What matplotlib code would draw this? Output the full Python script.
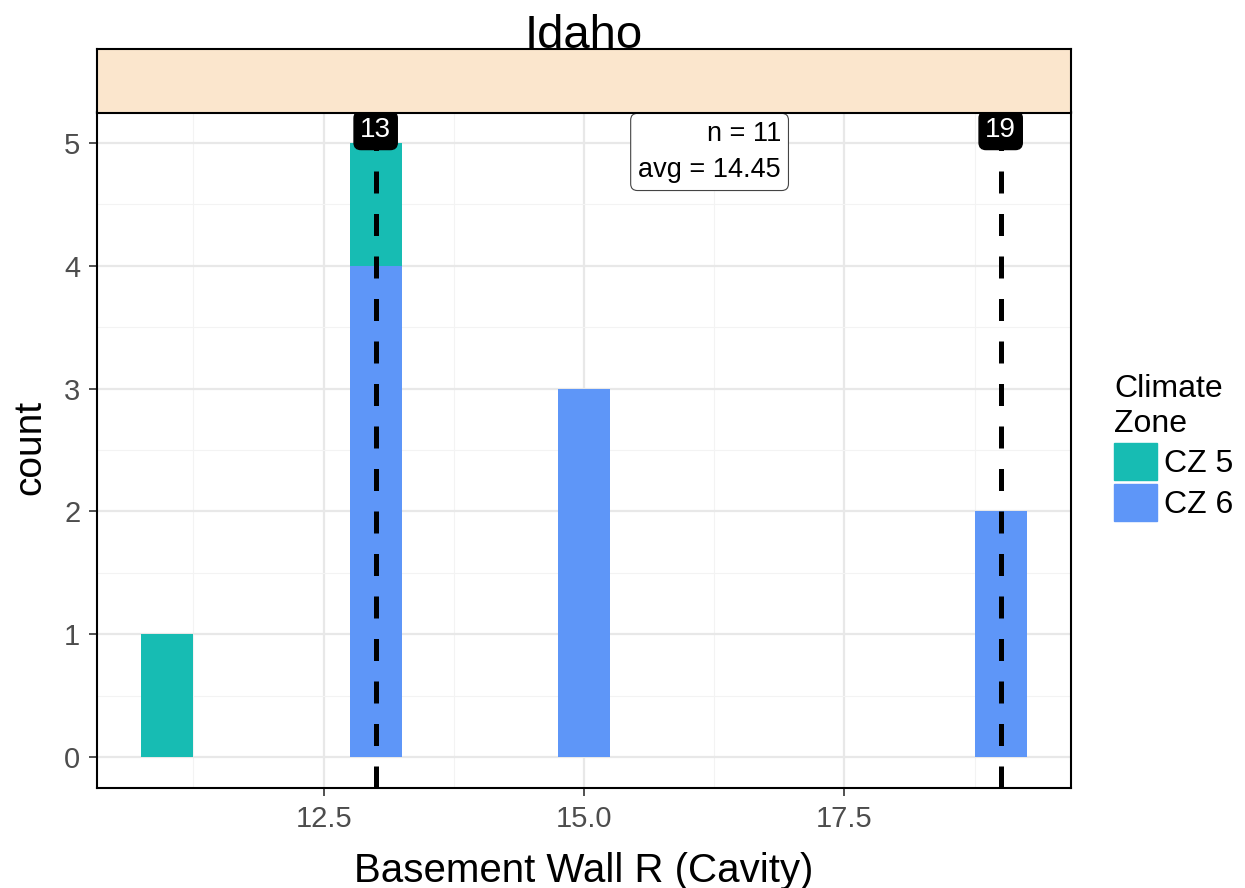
import matplotlib.pyplot as plt
from matplotlib.patches import Patch

plt.rcParams['font.family'] = ['Liberation Sans', 'DejaVu Sans']

# data
r_values = [11, 13, 15, 19]
cz5_counts = [1, 1, 0, 0]
cz6_counts = [0, 4, 3, 2]
zone_labels = ['CZ 5', 'CZ 6']
zone_colors = ['#17BCB3', '#5E96F8']
marked_r = [13, 19]
state = 'Idaho'

n = sum(cz5_counts) + sum(cz6_counts)
avg = sum(r * (a + b) for r, a, b in zip(r_values, cz5_counts, cz6_counts)) / n

W, H = 1245, 888
fig = plt.figure(figsize=(W / 100, H / 100), dpi=100)
ax = fig.add_axes([97 / W, 1 - 788 / H, 974 / W, 676 / H])

ax.bar(r_values, cz6_counts, width=0.5, color=zone_colors[1], zorder=2)
ax.bar(r_values, cz5_counts, width=0.5, bottom=cz6_counts, color=zone_colors[0], zorder=2)

for r in marked_r:
    ax.axvline(r, color='black', lw=3.6, ls=(0, (4.4, 4.1)), zorder=3)
    ax.text(r, 5.1, str(r), ha='center', va='center', color='white', fontsize=20, zorder=5,
            bbox=dict(boxstyle='round,pad=0.22,rounding_size=0.25', fc='black', ec='black'))

ax.text(16.89, 4.925, 'n = %d\navg = %.2f' % (n, avg), ha='right', va='center',
        multialignment='right', fontsize=19.5, linespacing=1.5, zorder=5,
        bbox=dict(boxstyle='round,pad=0.28,rounding_size=0.25', fc='white', ec='#444444', lw=0.8))

ax.set_xlim(10.325, 19.675)
ax.set_ylim(-0.25, 5.25)
ax.set_xticks([12.5, 15.0, 17.5])
ax.set_xticklabels(['12.5', '15.0', '17.5'])
ax.set_xticks([11.25, 13.75, 16.25, 18.75], minor=True)
ax.set_yticks(range(6))
ax.set_yticks([0.5, 1.5, 2.5, 3.5, 4.5], minor=True)
ax.grid(which='major', color='#E8E8E8', lw=1.6, zorder=0)
ax.grid(which='minor', color='#F3F3F3', lw=0.8, zorder=0)
ax.set_axisbelow(True)
ax.tick_params(which='major', labelsize=21, labelcolor='#4D4D4D', color='#333333',
               length=6, width=1.2, pad=6)
ax.tick_params(which='minor', length=0)
for s in ax.spines.values():
    s.set_linewidth(1.5)
    s.set_color('black')

ax.set_xlabel('Basement Wall R (Cavity)', fontsize=29)
ax.xaxis.set_label_coords(0.5, -0.094)
ax.set_ylabel('count', fontsize=28)
ax.yaxis.set_label_coords(-0.05, 0.504)

# facet strip
sax = fig.add_axes([97 / W, 1 - 113 / H, 974 / W, 64 / H])
sax.set_facecolor('#FBE6CD')
sax.set_xticks([])
sax.set_yticks([])
for s in sax.spines.values():
    s.set_linewidth(1.5)
fig.text(584 / W, 1 - 48 / H, state, ha='center', va='baseline', fontsize=34)

handles = [Patch(color=c) for c in zone_colors]
fig.legend(handles, zone_labels, title='Climate\nZone', loc='upper left',
           bbox_to_anchor=(1114 / W, 1 - 374 / H), frameon=False, fontsize=23,
           title_fontsize=23, handlelength=1.35, handleheight=1.4, handletextpad=0.22,
           labelspacing=0.13, borderpad=0, borderaxespad=0, alignment='left')

fig.savefig('out.png', dpi=100)
